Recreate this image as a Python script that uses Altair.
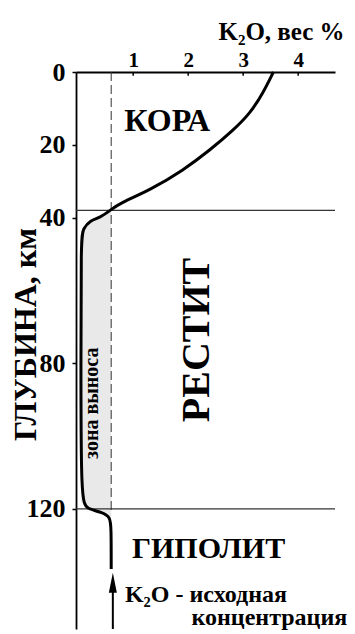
import altair as alt
import pandas as pd

# ---- data ----
x_ticks = [1, 2, 3, 4]
y_ticks = [0, 20, 40, 80, 120]
x_domain = [-0.04, 4.67]
y_domain = [0, 153]

curve_depth = [0, 5.8, 11.3, 16, 21.4, 27, 32.4, 36, 38, 40, 40.7, 43, 45.6, 80, 118, 120, 121, 122.3, 125, 136.5]
curve_k2o = [3.55, 3.36, 3.13, 2.82, 2.40, 1.91, 1.31, 0.76, 0.58, 0.40, 0.22, 0.09, 0.05, 0.05, 0.05, 0.16, 0.45, 0.58, 0.60, 0.60]

initial_k2o = 0.6            # dashed line / initial concentration
dashed_depth = [0, 121]
boundary_depth = [38, 120]   # crust / restite / hypolite boundaries
zone_top, zone_bottom = 38, 122.3

arrow_x = 0.63
arrow_tip = 140.3
arrow_tail = 153

big_labels = ["КОРА", "ГИПОЛИТ"]
big_x = [1.62, 2.37]
big_y = [13.5, 131]
big_size = [32, 30]

serif = "Liberation Serif"

curve = pd.DataFrame({"i": range(len(curve_depth)), "depth": curve_depth, "k2o": curve_k2o})
zone = curve[(curve.depth >= zone_top) & (curve.depth <= zone_bottom)].copy()
zone["k2o_init"] = initial_k2o

W, H = 259, 557
xs = alt.Scale(domain=x_domain, nice=False, zero=False)
ys = alt.Scale(domain=y_domain, nice=False, zero=False, reverse=True)


def X(field):
    return alt.X(field, scale=xs)


def Y(field):
    return alt.Y(field, scale=ys)


axis_x = alt.X("k2o:Q", scale=xs, axis=alt.Axis(
    orient="top", values=x_ticks, format="d", tickSize=0, labelPadding=2,
    labelFont=serif, labelFontSize=21, labelFontWeight="bold", labelColor="black",
    labelFlush=False, labelOverlap=False, grid=False,
    domainColor="black", domainWidth=1.8,
    title="K₂O, вес %", titleFont=serif, titleFontSize=25, titleFontWeight="bold",
    titleColor="black", titleX=205, titleY=-33, titleAlign="center",
    titleBaseline="alphabetic", titleAngle=0))
axis_y = alt.Y("depth:Q", scale=ys, axis=alt.Axis(
    orient="left", values=y_ticks, format="d", tickSize=4, tickWidth=1.5, tickColor="black",
    labelPadding=7, labelFont=serif, labelFontSize=26, labelFontWeight="bold",
    labelColor="black", labelFlush=False, labelOverlap=False, grid=False,
    domainColor="black", domainWidth=1.8,
    title="ГЛУБИНА, км", titleFont=serif, titleFontSize=32, titleFontWeight="bold",
    titleColor="black", titleX=-51, titleY=262, titleAngle=270,
    titleAlign="center", titleBaseline="middle"))

zone_layer = alt.Chart(zone).mark_area(orient="horizontal", color="#e9e9e9").encode(
    y=axis_y, x=axis_x, x2="k2o_init:Q")

line_layer = alt.Chart(curve).mark_line(color="black", strokeWidth=3, interpolate="basis").encode(
    x=X("k2o:Q"), y=Y("depth:Q"), order="i:Q")

dash_df = pd.DataFrame({"depth": dashed_depth, "k2o": [initial_k2o] * len(dashed_depth)})
dash_layer = alt.Chart(dash_df).mark_line(color="#333", strokeWidth=1, strokeDash=[9, 4]).encode(
    x=X("k2o:Q"), y=Y("depth:Q"))

bnd_df = pd.DataFrame({"depth": boundary_depth, "x0": [x_domain[0]] * 2, "x1": [x_domain[1]] * 2})
bnd_layer = alt.Chart(bnd_df).mark_rule(color="#333", strokeWidth=1.2).encode(
    y=Y("depth:Q"), x=X("x0:Q"), x2="x1:Q")

tick_df = pd.DataFrame({"k2o": x_ticks, "d0": [0] * 4, "d1": [1] * 4})
tick_layer = alt.Chart(tick_df).mark_rule(color="black", strokeWidth=1.5).encode(
    x=X("k2o:Q"), y=Y("d0:Q"), y2="d1:Q")

lab_df = pd.DataFrame({"t": big_labels, "k2o": big_x, "depth": big_y, "s": big_size})
lab_layer = alt.Chart(lab_df).mark_text(font=serif, fontWeight="bold", color="black",
                                         baseline="middle", align="center").encode(
    x=X("k2o:Q"), y=Y("depth:Q"), text="t:N",
    size=alt.Size("s:Q", scale=None, legend=None))

restit = alt.Chart(pd.DataFrame({"t": ["РЕСТИТ"], "k2o": [2.16], "depth": [73.6]})).mark_text(
    font=serif, fontWeight="bold", fontSize=40, angle=270, color="black",
    baseline="middle", align="center").encode(
    x=X("k2o:Q"), y=Y("depth:Q"), text="t:N")

zona = alt.Chart(pd.DataFrame({"t": ["зона выноса"], "k2o": [0.26], "depth": [91]})).mark_text(
    font=serif, fontWeight="bold", fontSize=20, angle=270, color="black",
    baseline="middle", align="center").encode(
    x=X("k2o:Q"), y=Y("depth:Q"), text="t:N")

note_df = pd.DataFrame({"t": ["K₂O - исходная", "концентрация"], "k2o": [0.85, 2.06], "depth": [145.6, 151.8]})
note = alt.Chart(note_df).mark_text(font=serif, fontWeight="bold", fontSize=24, color="black",
                                    baseline="alphabetic", align="left").encode(
    x=X("k2o:Q"), y=Y("depth:Q"), text="t:N")

arrow_shaft = alt.Chart(pd.DataFrame({"k2o": [arrow_x], "d0": [arrow_tip], "d1": [arrow_tail]})).mark_rule(
    color="black", strokeWidth=2).encode(
    x=X("k2o:Q"), y=Y("d0:Q"), y2="d1:Q")
arrow_head = alt.Chart(pd.DataFrame({"k2o": [arrow_x], "depth": [arrow_tip]})).mark_point(
    shape="M0,-1L0.4,1L-0.4,1Z", size=400, filled=True, color="black", opacity=1).encode(
    x=X("k2o:Q"), y=Y("depth:Q"))

chart = alt.layer(zone_layer, dash_layer, bnd_layer, tick_layer, line_layer, lab_layer,
                  restit, zona, note, arrow_shaft, arrow_head).properties(
    width=W, height=H,
    background="white",
    autosize=alt.AutoSizeParams(type="none"),
    padding={"left": 68, "top": 64, "right": 12, "bottom": 3},
).configure_view(stroke=None).configure_axis(
    labelFont=serif, labelFontWeight="bold", labelColor="black")

chart.save("out.html", embed_options={"renderer": "svg", "actions": False})
